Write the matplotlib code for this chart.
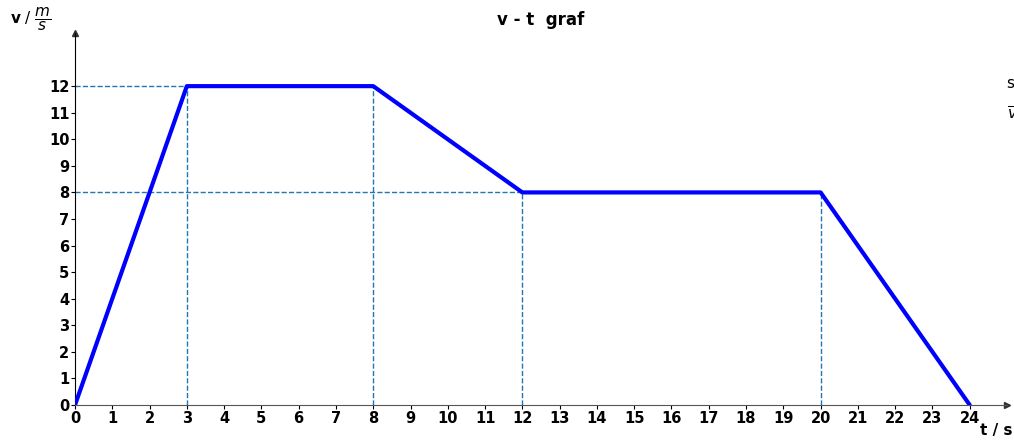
import matplotlib
matplotlib.use("Agg")
import matplotlib.pyplot as plt

t = [0, 3, 8, 12, 20, 24]
v = [0, 12, 12, 8, 8, 0]
xticks = list(range(0, 25))
yticks = list(range(0, 13))

fig = plt.figure(figsize=(10.14, 4.43), dpi=100)
ax = fig.add_axes([75/1014, 38/443, 932/1014, 372/443])
ax.set_xlim(0, 25)
ax.set_ylim(0, 14)

# guide lines
ax.plot([0, 8], [12, 12], ls='--', color='#1f77b4', lw=1)
ax.plot([0, 20], [8, 8], ls='--', color='#1f77b4', lw=1)
for xi, yi in zip(t[1:5], v[1:5]):
    ax.plot([xi, xi], [0, yi], ls='--', color='#1f77b4', lw=1)

ax.plot(t, v, color='blue', lw=3, solid_capstyle='round', zorder=5)

for s in ['top', 'right']:
    ax.spines[s].set_visible(False)
ax.spines['left'].set_color('black')
ax.spines['bottom'].set_color('#555555')
ax.plot(1, 0, '>', color='#333333', transform=ax.transAxes, clip_on=False, ms=4)
ax.plot(0, 1, '^', color='#333333', transform=ax.transAxes, clip_on=False, ms=4)

ax.set_xticks(xticks)
ax.set_yticks(yticks)
ax.tick_params(length=3, width=0.8, pad=1)
for lab in ax.get_xticklabels() + ax.get_yticklabels():
    lab.set_fontweight('bold')
    lab.set_fontsize(10.5)

fig.text(541/1014, 1 - 20/443, 'v - t  graf', ha='center', va='center', fontsize=12, fontweight='bold')
fig.text(10/1014, 1 - 20/443, r'$\mathbf{v}$ / $\dfrac{m}{s}$', ha='left', va='center', fontsize=11)
fig.text(980/1014, 1 - 430/443, 't / s', ha='left', va='center', fontsize=11, fontweight='bold')

fig.text(1007/1014, 1 - 83/443, 's = 198 m', ha='left', va='center', fontsize=11)
fig.text(1007/1014, 1 - 113/443, r'$\overline{v}$ = 8.25 m/s', ha='left', va='center', fontsize=11)

fig.savefig('out.png', dpi=100)
